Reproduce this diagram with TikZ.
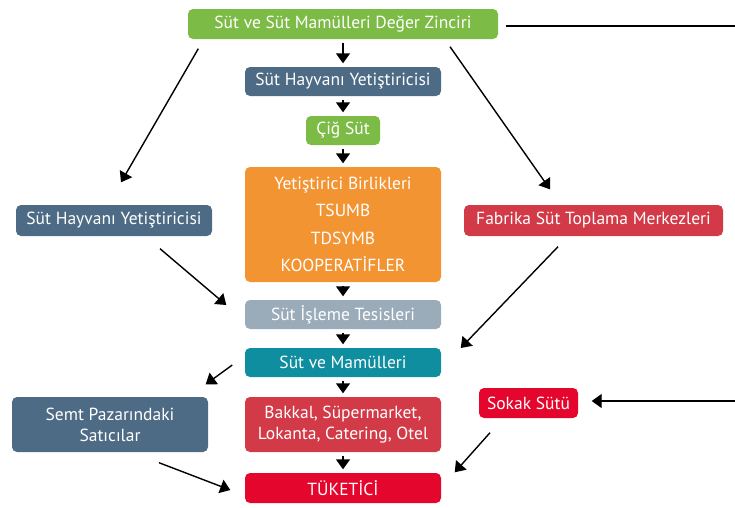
\documentclass[tikz,border=0pt]{standalone}
\usepackage{fontspec}
\setmainfont{PT Sans}
\usetikzlibrary{arrows.meta}
\definecolor{chaingreen}{HTML}{7CBB45}
\definecolor{slateblue}{HTML}{4E6B85}
\definecolor{unionorange}{HTML}{F39433}
\definecolor{palegray}{HTML}{9AABBA}
\definecolor{milkteal}{HTML}{0E8E9E}
\definecolor{shopred}{HTML}{D33A47}
\definecolor{streetred}{HTML}{E5062D}
\begin{document}
\begin{tikzpicture}[x=1pt, y=-1pt, >={Triangle[width=14pt,length=10pt]}, line width=1.4pt,
    box/.style={rounded corners=5pt, text=white, inner sep=0pt, align=center,
        font=\fontsize{17.5}{21}\selectfont},
    flow/.style={->, shorten <=3pt, shorten >=3pt}]
    \useasboundingbox (0,0) rectangle (735,507);

    % Main chain
    \node[box, fill=chaingreen, minimum width=310pt, minimum height=30pt] (chain) at (343,24) {Süt ve Süt Mamülleri Değer Zinciri};
    \node[box, fill=slateblue, minimum width=196pt, minimum height=29pt] (breeder) at (343,81.5) {Süt Hayvanı Yetiştiricisi};
    \node[box, fill=chaingreen, minimum width=74pt, minimum height=29pt] (raw) at (343,130.5) {Çiğ Süt};
    \node[box, fill=unionorange, minimum width=196pt, minimum height=115pt,
        font=\fontsize{17.5}{27.3}\selectfont] (unions) at (343,224.5) {Yetiştirici Birlikleri\\TSUMB\\TDSYMB\\KOOPERATİFLER};
    \node[box, fill=palegray, minimum width=196pt, minimum height=29pt] (plant) at (343,314.5) {Süt İşleme Tesisleri};
    \node[box, fill=milkteal, minimum width=196pt, minimum height=29pt] (products) at (343,362.5) {Süt ve Mamülleri};
    \node[box, fill=shopred, minimum width=196pt, minimum height=55pt] (shops) at (343,424.5) {Bakkal, Süpermarket,\\Lokanta, Catering, Otel};
    \node[box, fill=streetred, minimum width=196pt, minimum height=30pt] (consumer) at (343,488) {TÜKETİCİ};

    % Side nodes
    \node[box, fill=slateblue, minimum width=196pt, minimum height=31pt] (breederL) at (114,220.5) {Süt Hayvanı Yetiştiricisi};
    \node[box, fill=shopred, minimum width=259pt, minimum height=31pt] (factory) at (593.5,220.5) {Fabrika Süt Toplama Merkezleri};
    \node[box, fill=slateblue, minimum width=196pt, minimum height=55pt] (market) at (110,424.5) {Semt Pazarındaki\\Satıcılar};
    \node[box, fill=streetred, minimum width=99pt, minimum height=30pt] (street) at (528.5,403) {Sokak Sütü};

    % Edge points
    \coordinate (edgeTop) at (735,26);
    \coordinate (edgeBot) at (735,401);

    % Vertical arrows
    \draw[flow] (chain) -- (breeder);
    \draw[flow] (breeder) -- (raw);
    \draw[flow] (raw) -- (unions);
    \draw[flow] (unions) -- (plant);
    \draw[flow] (plant) -- (products);
    \draw[flow] (products) -- (shops);
    \draw[flow] (shops) -- (consumer);

    % Side arrows
    \draw[->] ([xshift=11pt,yshift=-9pt]chain.south west) -- ([xshift=7pt,yshift=22pt]breederL.north);
    \draw[->] ([xshift=107pt,yshift=-7pt]chain.south) -- ([xshift=-43.5pt,yshift=15pt]factory.north);
    \draw[->] ([xshift=46pt,yshift=-12pt]breederL.south) -- ([xshift=-18pt,yshift=9.5pt]plant.west);
    \draw[->] ([xshift=-35.5pt,yshift=-10pt]factory.south) -- ([xshift=19pt,yshift=14.5pt]products.east);
    \draw[->] ([xshift=-12pt,yshift=-2.5pt]products.west) -- ([xshift=-3pt,yshift=12pt]market.north east);
    \draw[->] ([xshift=49pt,yshift=-10pt]market.south) -- ([xshift=-14pt,yshift=-2pt]consumer.west);
    \draw[->] ([xshift=-38.5pt,yshift=-14pt]street.south) -- ([xshift=13pt]consumer.north east);

    % Street milk loop
    \draw[shorten <=7pt] (chain.east |- edgeTop) -- (edgeTop);
    \draw[->, shorten >=13pt] (edgeBot) -- (street.east |- edgeBot);
\end{tikzpicture}
\end{document}
